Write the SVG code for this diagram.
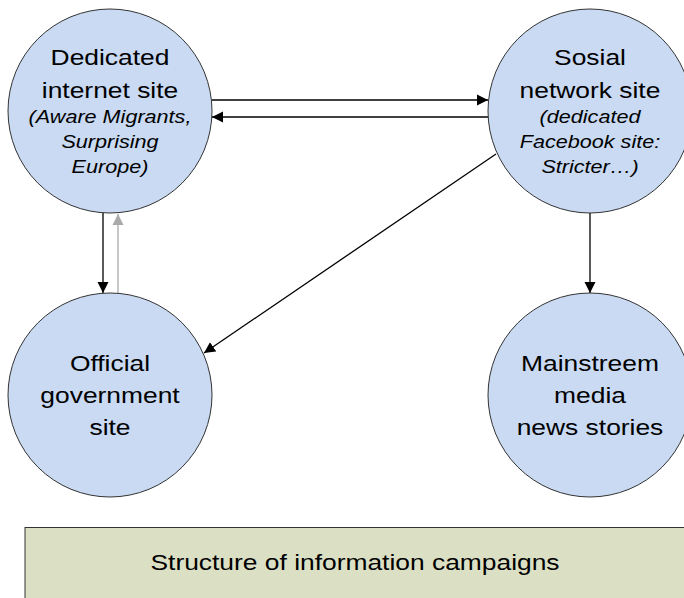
<svg xmlns="http://www.w3.org/2000/svg" width="684" height="598" viewBox="0 0 684 598">
<style>
.node{fill:#c9daf2;stroke:#333;stroke-width:1}
.t{font-family:"Liberation Sans",Arial,sans-serif;font-size:22px;fill:#000;text-anchor:middle}
.i{font-size:18px;font-style:italic}
.c{stroke:#000;stroke-width:1.3;fill:none}
.g{stroke:#aaa;stroke-width:1.3;fill:none}
</style>
<defs>
<marker id="ah" markerUnits="userSpaceOnUse" markerWidth="12" markerHeight="12" refX="11" refY="6" orient="auto">
<path d="M0,0.5 L11,6 L0,11.5 z" fill="#000"/>
</marker>
<marker id="ahg" markerUnits="userSpaceOnUse" markerWidth="12" markerHeight="12" refX="11" refY="6" orient="auto">
<path d="M0,0.5 L11,6 L0,11.5 z" fill="#aaa"/>
</marker>
</defs>
<rect width="684" height="598" fill="#fff"/>
<g id="connectors">
<line class="c" x1="212" y1="100" x2="488" y2="100" marker-end="url(#ah)"/>
<line class="c" x1="488" y1="117" x2="212" y2="117" marker-end="url(#ah)"/>
<line class="c" x1="103" y1="213" x2="103" y2="293" marker-end="url(#ah)"/>
<line class="g" x1="118" y1="293" x2="118" y2="214" marker-end="url(#ahg)"/>
<line class="c" x1="496" y1="154" x2="204" y2="353" marker-end="url(#ah)"/>
<line class="c" x1="590" y1="213" x2="590" y2="293" marker-end="url(#ah)"/>
</g>
<g id="dedicated">
<circle class="node" cx="110" cy="111" r="102"/>
<text class="t" transform="translate(110 0) scale(1.2 1)"><tspan x="0" y="65">Dedicated</tspan><tspan x="0" y="98">internet site</tspan><tspan class="i" x="0" y="123">(Aware Migrants,</tspan><tspan class="i" x="0" y="148">Surprising</tspan><tspan class="i" x="0" y="173">Europe)</tspan></text>
</g>
<g id="social">
<circle class="node" cx="590" cy="111" r="102"/>
<text class="t" transform="translate(590 0) scale(1.2 1)"><tspan x="0" y="65">Sosial</tspan><tspan x="0" y="98">network site</tspan><tspan class="i" x="0" y="123">(dedicated</tspan><tspan class="i" x="0" y="148">Facebook site:</tspan><tspan class="i" x="0" y="173">Stricter…)</tspan></text>
</g>
<g id="official">
<circle class="node" cx="110" cy="395" r="102"/>
<text class="t" transform="translate(110 0) scale(1.2 1)"><tspan x="0" y="371">Official</tspan><tspan x="0" y="403">government</tspan><tspan x="0" y="435">site</tspan></text>
</g>
<g id="mainstream">
<circle class="node" cx="590" cy="395" r="102"/>
<text class="t" transform="translate(590 0) scale(1.2 1)"><tspan x="0" y="371">Mainstreem</tspan><tspan x="0" y="403">media</tspan><tspan x="0" y="435">news stories</tspan></text>
</g>
<g id="caption">
<rect x="25" y="527.5" width="662" height="80" fill="#dbe0c4" stroke="#333" stroke-width="1"/>
<text class="t" transform="translate(355 0) scale(1.2 1)"><tspan x="0" y="570">Structure of information campaigns</tspan></text>
</g>
</svg>
